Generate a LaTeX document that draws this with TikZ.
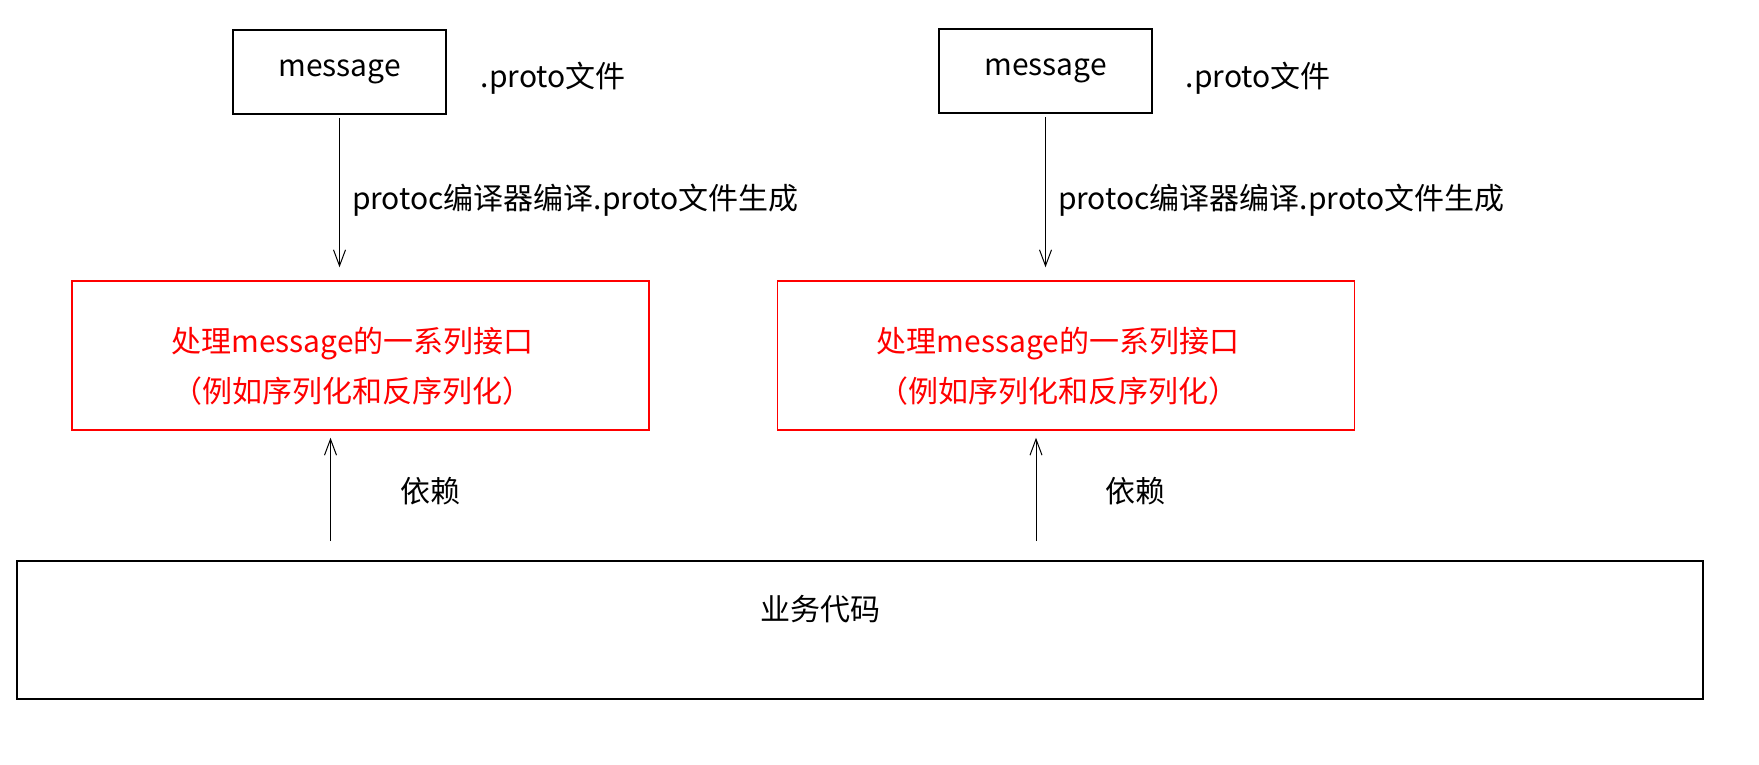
\documentclass[tikz,border=0pt]{standalone}
\usepackage{fontspec}
\setmainfont{Noto Sans CJK SC}
\usetikzlibrary{arrows.meta,calc,positioning}

\begin{document}
\begin{tikzpicture}[>={Straight Barb[length=16pt,width=12pt]},x=1pt,y=-1pt,
    font=\fontsize{30}{36}\selectfont,
    msgbox/.style={draw,line width=1.5pt,minimum width=213pt,minimum height=84pt},
    ifacebox/.style={draw=red,line width=1.5pt,minimum width=577pt,minimum height=149pt},
    ifacetext/.style={text=red,align=center,font=\fontsize{30}{50}\selectfont,xshift=-8pt,yshift=-11pt},
    bizbox/.style={draw,line width=2pt,minimum width=1686pt,minimum height=138pt},
    dep/.style={->,line width=1pt},
    lbl/.style={inner sep=0pt}]
  \useasboundingbox (0,0) rectangle (1759,764);
  % left chain
  \node[msgbox] (msg1) at (339.5,72) {message};
  \node[lbl,anchor=west] (ext1) at ($(msg1.east)+(34,6)$) {.proto文件};
  \node[ifacebox,label={[ifacetext]center:处理message的一系列接口\\（例如序列化和反序列化）}] (iface1) at (360.5,355.5) {};
  % right chain
  \node[msgbox] (msg2) at (1045.5,71) {message};
  \node[lbl,anchor=west] (ext2) at ($(msg2.east)+(33,7)$) {.proto文件};
  \node[ifacebox,label={[ifacetext]center:处理message的一系列接口\\（例如序列化和反序列化）}] (iface2) at (1066,355.5) {};
  % business code
  \node[bizbox,label={[xshift=-40pt,yshift=21pt]center:业务代码}] (biz) at (860,630) {};

  \draw[dep,shorten <=3pt,shorten >=13pt] (msg1.south) -- (msg1.south |- iface1.north)
    node[lbl,midway,right,xshift=12pt,yshift=-3pt] {protoc编译器编译.proto文件生成};
  \draw[dep,shorten <=3pt,shorten >=13pt] (msg2.south) -- (msg2.south |- iface2.north)
    node[lbl,midway,right,xshift=12pt,yshift=-3pt] {protoc编译器编译.proto文件生成};
  \draw[dep,shorten <=19pt,shorten >=7pt] ($(biz.north -| iface1.south)+(-30,0)$) -- ($(iface1.south)+(-30,0)$)
    node[lbl,midway,right,xshift=69pt,yshift=4pt] {依赖};
  \draw[dep,shorten <=19pt,shorten >=7pt] ($(biz.north -| iface2.south)+(-30,0)$) -- ($(iface2.south)+(-30,0)$)
    node[lbl,midway,right,xshift=69pt,yshift=4pt] {依赖};
\end{tikzpicture}
\end{document}
